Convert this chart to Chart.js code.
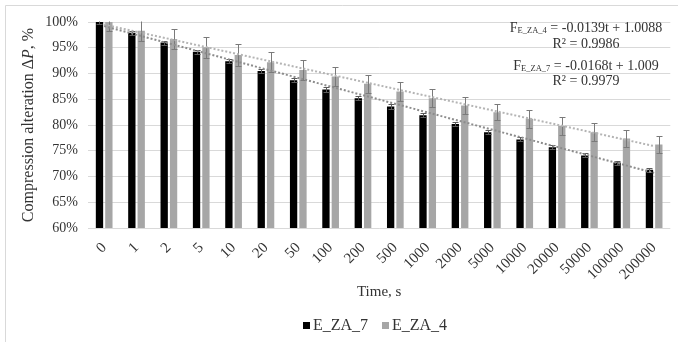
<!DOCTYPE html>
<html><head><meta charset="utf-8">
<script src="https://cdn.jsdelivr.net/npm/chart.js@4.4.0/dist/chart.umd.min.js"></script>
<style>html,body{margin:0;padding:0;background:#fff;}</style>
</head><body>
<canvas id="c" width="678" height="342"></canvas>
<script>
const categories = ['0','1','2','5','10','20','50','100','200','500','1000','2000','5000','10000','20000','50000','100000','200000'];
const seriesNames = ['E_ZA_7', 'E_ZA_4'];
const eza7 = [100, 97.9, 96.0, 94.2, 92.4, 90.5, 88.7, 86.9, 85.2, 83.6, 81.9, 80.2, 78.6, 77.2, 75.7, 74.1, 72.7, 71.3];
const eza4 = [100, 98.3, 96.7, 95.1, 93.6, 92.2, 90.7, 89.4, 88.0, 86.5, 85.2, 83.8, 82.5, 81.2, 79.8, 78.6, 77.4, 76.2];
const err7 = [0.4, 0.4, 0.4, 0.4, 0.4, 0.4, 0.4, 0.4, 0.4, 0.4, 0.4, 0.4, 0.4, 0.4, 0.4, 0.4, 0.4, 0.4];
const err4 = [1.8, 2.0, 2.0, 2.0, 2.1, 1.9, 1.9, 1.8, 1.8, 1.8, 1.7, 1.7, 1.6, 1.7, 1.8, 1.7, 1.6, 1.7];
const trend7Ends = [99.2, 70.7];
const trend4Ends = [99.5, 75.9];
const yTicks = [60, 65, 70, 75, 80, 85, 90, 95, 100];
const annotations = [
  {sub: 'E_ZA_4', eq: ' = -0.0139t + 1.0088', r2: 'R² = 0.9986'},
  {sub: 'E_ZA_7', eq: ' = -0.0168t + 1.009', r2: 'R² = 0.9979'}
];

const FONT = "'Liberation Serif', 'Times New Roman', serif";
const TXT = '#333333';
const barColors = ['#000000', '#a6a6a6'];

function endsToLine(ends) {
  return categories.map((_, i) => i === 0 ? ends[0] : (i === categories.length - 1 ? ends[1] : null));
}

const bgPlugin = {
  id: 'bg',
  beforeDraw(chart) {
    const ctx = chart.ctx;
    ctx.save();
    ctx.fillStyle = '#ffffff';
    ctx.fillRect(0, 0, chart.width, chart.height);
    ctx.strokeStyle = '#d9d9d9';
    ctx.lineWidth = 1;
    ctx.beginPath();
    ctx.moveTo(5.5, chart.height + 2);
    ctx.lineTo(5.5, 5.5);
    ctx.lineTo(chart.width + 2, 5.5);
    ctx.stroke();
    ctx.restore();
  }
};

const errorBars = {
  id: 'errorBars',
  afterDatasetDraw(chart, args) {
    const ds = chart.data.datasets[args.index];
    if (!ds.errors) return;
    const ctx = chart.ctx, y = chart.scales.y, a = chart.chartArea;
    ctx.save();
    ctx.beginPath();
    ctx.rect(a.left, a.top - 0.5, a.right - a.left, a.bottom - a.top + 1);
    ctx.clip();
    ctx.strokeStyle = ds.errorColor;
    ctx.lineWidth = 1;
    args.meta.data.forEach((bar, i) => {
      const v = ds.data[i], e = ds.errors[i];
      const x = Math.round(bar.x) + 0.5;
      const yt = Math.round(y.getPixelForValue(v + e)) + 0.5;
      const yb = Math.round(y.getPixelForValue(v - e)) + 0.5;
      ctx.beginPath();
      ctx.moveTo(x, yt); ctx.lineTo(x, yb);
      ctx.moveTo(x - 3, yt); ctx.lineTo(x + 3, yt);
      ctx.moveTo(x - 3, yb); ctx.lineTo(x + 3, yb);
      ctx.stroke();
    });
    ctx.restore();
  }
};

const textPlugin = {
  id: 'texts',
  afterDraw(chart) {
    const ctx = chart.ctx, a = chart.chartArea;
    ctx.save();
    // y axis title with italic P
    ctx.fillStyle = TXT;
    ctx.textBaseline = 'middle';
    ctx.translate(29, (a.top + a.bottom) / 2);
    ctx.rotate(-Math.PI / 2);
    const parts = [['Compression alteration Δ', '16px ' + FONT], ['P', 'italic 16px ' + FONT], [', %', '16px ' + FONT]];
    let tw = 0;
    parts.forEach(p => { ctx.font = p[1]; tw += ctx.measureText(p[0]).width; });
    let x0 = -tw / 2;
    ctx.textAlign = 'left';
    parts.forEach(p => { ctx.font = p[1]; ctx.fillText(p[0], x0, 0); x0 += ctx.measureText(p[0]).width; });
    ctx.restore();

    // trendline equations
    ctx.save();
    ctx.fillStyle = TXT;
    ctx.textBaseline = 'alphabetic';
    ctx.textAlign = 'left';
    const cx = 586;
    const baselines = [[31.5, 47.5], [69.5, 85]];
    annotations.forEach((an, k) => {
      const big = '14px ' + FONT, small = '8.5px ' + FONT;
      ctx.font = big; const wF = ctx.measureText('F').width; const wEq = ctx.measureText(an.eq).width;
      ctx.font = small; const wS = ctx.measureText(an.sub).width;
      let x = cx - (wF + wS + wEq) / 2;
      const yb = baselines[k][0];
      ctx.font = big; ctx.fillText('F', x, yb); x += wF;
      ctx.font = small; ctx.fillText(an.sub, x, yb + 1); x += wS;
      ctx.font = big; ctx.fillText(an.eq, x, yb);
      ctx.textAlign = 'center';
      ctx.fillText(an.r2, cx, baselines[k][1]);
      ctx.textAlign = 'left';
    });
    ctx.restore();

    // legend
    ctx.save();
    ctx.font = '16px ' + FONT;
    ctx.textBaseline = 'middle';
    ctx.textAlign = 'left';
    const box = 7, gapBox = 3, gapItem = 14, ly = 325, lcx = 375;
    const widths = seriesNames.map(n => box + gapBox + ctx.measureText(n).width);
    const total = widths.reduce((s, w) => s + w, 0) + gapItem * (seriesNames.length - 1);
    let lx = lcx - total / 2;
    seriesNames.forEach((n, i) => {
      ctx.fillStyle = barColors[i];
      ctx.fillRect(Math.round(lx), Math.round(ly - box / 2), box, box);
      ctx.fillStyle = TXT;
      ctx.fillText(n, lx + box + gapBox, ly + 1);
      lx += widths[i] + gapItem;
    });
    ctx.restore();
  }
};

new Chart(document.getElementById('c'), {
  data: {
    labels: categories,
    datasets: [
      {type: 'bar', label: seriesNames[0], data: eza7, backgroundColor: barColors[0], errors: err7, errorColor: '#595959',
       categoryPercentage: 0.58, barPercentage: 0.78, order: 1},
      {type: 'bar', label: seriesNames[1], data: eza4, backgroundColor: barColors[1], errors: err4, errorColor: '#7a7a7a',
       categoryPercentage: 0.58, barPercentage: 0.78, order: 1},
      {type: 'line', label: 'trend7', data: endsToLine(trend7Ends), spanGaps: true, borderColor: '#8c8c8c', borderWidth: 2,
       borderDash: [2, 2], pointRadius: 0, fill: false, order: 0},
      {type: 'line', label: 'trend4', data: endsToLine(trend4Ends), spanGaps: true, borderColor: '#b4b4b4', borderWidth: 2,
       borderDash: [2, 2], pointRadius: 0, fill: false, order: 0}
    ]
  },
  options: {
    responsive: false,
    animation: false,
    devicePixelRatio: 1,
    layout: {padding: {top: 22, left: 0, right: 5, bottom: 37}},
    plugins: {
      legend: {display: false},
      tooltip: {enabled: false}
    },
    scales: {
      x: {
        grid: {display: false, drawTicks: false},
        border: {display: false},
        ticks: {minRotation: 45, maxRotation: 45, autoSkip: false, font: {family: FONT, size: 15}, color: TXT, padding: 11},
        title: {display: true, text: 'Time, s', font: {family: FONT, size: 15}, color: TXT, padding: {top: 0, bottom: 4}},
        afterFit(s) { s.height = 77; }
      },
      y: {
        min: 60, max: 100,
        afterBuildTicks(s) { s.ticks = yTicks.map(v => ({value: v})); },
        ticks: {callback: v => v + '%', font: {family: FONT, size: 14}, color: TXT, padding: 10},
        grid: {color: '#d9d9d9', drawTicks: false},
        border: {display: false},
        afterFit(s) { s.width = 88; }
      }
    }
  },
  plugins: [bgPlugin, errorBars, textPlugin]
});
</script>
</body></html>
